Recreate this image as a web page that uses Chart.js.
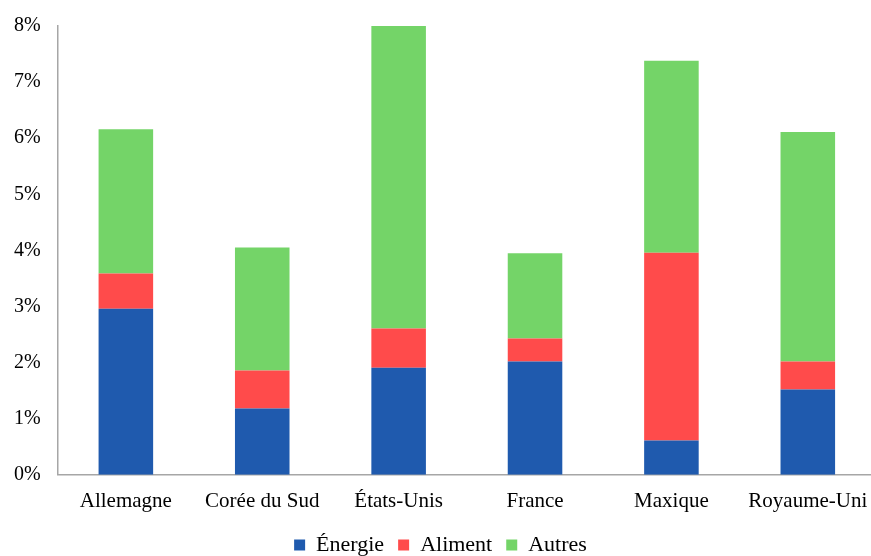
<!DOCTYPE html>
<html>
<head>
<meta charset="utf-8">
<script src="https://cdn.jsdelivr.net/npm/chart.js@4"></script>
<style>
  html, body { margin: 0; padding: 0; background: #fff; overflow: hidden; }
  #wrap { width: 871px; height: 561px; margin: 5px 0 0 5px; }
</style>
</head>
<body>
<div id="wrap"><canvas id="chart" width="871" height="561"></canvas></div>
<script>
// categories and series (% values)
const pays = ['Allemagne', 'Corée du Sud', 'États-Unis', 'France', 'Maxique', 'Royaume-Uni'];
const energie = [2.96, 1.18, 1.91, 2.02, 0.61, 1.52];
const aliment = [0.63, 0.68, 0.70, 0.41, 3.35, 0.50];
const autres = [2.57, 2.19, 5.39, 1.52, 3.42, 4.09];
const yTicks = [0, 1, 2, 3, 4, 5, 6, 7, 8];

const serif = "'Liberation Serif', 'Times New Roman', serif";

new Chart(document.getElementById('chart'), {
    type: 'bar',
    data: {
        labels: pays,
        datasets: [
            { label: 'Énergie', data: energie, backgroundColor: '#1f5aae' },
            { label: 'Aliment', data: aliment, backgroundColor: '#ff4b4b' },
            { label: 'Autres', data: autres, backgroundColor: '#74d468' }
        ]
    },
    options: {
        responsive: false,
        animation: false,
        layout: { padding: { top: 16, right: 0, left: 0, bottom: 0 } },
        datasets: { bar: { barPercentage: 0.4, categoryPercentage: 1 } },
        plugins: {
            tooltip: { enabled: false },
            legend: {
                position: 'bottom',
                labels: {
                    boxWidth: 11,
                    boxHeight: 11,
                    padding: 14,
                    color: '#000',
                    font: { family: serif, size: 22 }
                }
            }
        },
        scales: {
            x: {
                stacked: true,
                grid: { display: false },
                border: { color: '#a6a6a6', width: 1.5 },
                ticks: { color: '#000', font: { family: serif, size: 21 }, padding: 6 }
            },
            y: {
                stacked: true,
                min: yTicks[0],
                max: yTicks[yTicks.length - 1],
                grid: { display: false },
                border: { color: '#a6a6a6', width: 1.5 },
                afterBuildTicks: axis => { axis.ticks = yTicks.map(v => ({ value: v })); },
                ticks: {
                    color: '#000',
                    padding: 9,
                    font: { family: serif, size: 20 },
                    callback: v => v + '%'
                }
            }
        }
    }
});
</script>
</body>
</html>
